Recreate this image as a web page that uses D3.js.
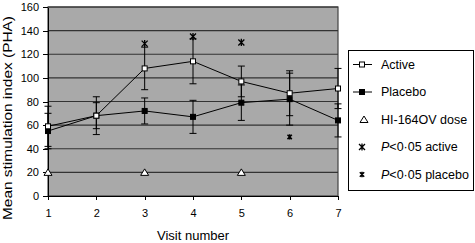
<!DOCTYPE html>
<html lang="en">
<head>
<meta charset="UTF-8" />
<title>Mean stimulation index by visit</title>
<script src="https://d3js.org/d3.v7.min.js"></script>
<style>
    body { margin: 0; background: #fff; }
    svg { display: block; font-family: "Liberation Sans", Arial, sans-serif; }
    .axis path, .axis line { stroke: #000; fill: none; shape-rendering: crispEdges; }
    .axis text { font-size: 11px; fill: #000; font-family: "Liberation Sans", Arial, sans-serif; }
    .grid line { stroke: #333; stroke-width: 1.2; }
    .legend text { font-size: 12.5px; fill: #000; }
</style>
</head>
<body>
<script>
    // values
    const visits = [1, 2, 3, 4, 5, 6, 7];
    const activeMean = [59, 68, 108, 114, 97, 87, 91];
    const activeErr = [17, 11, 18, 19, 13, 19, 17];
    const placeboMean = [55, 68, 72, 67, 79, 82, 64];
    const placeboErr = [15, 16, 11, 14, 15, 22, 14];
    const doseVisits = [1, 3, 5];
    const doseValue = 20;
    const sigActiveVisits = [3, 4, 5];
    const sigActiveValues = [129, 135, 130];
    const sigPlaceboVisits = [6];
    const sigPlaceboValues = [50];
    const yTicks = [0, 20, 40, 60, 80, 100, 120, 140, 160];
    const legendLabels = ['Active', 'Placebo', 'HI-164OV dose', 'P<0·05 active', 'P<0·05 placebo'];

    const w = 475, h = 243;
    const x = d3.scaleLinear().domain([1, 7]).range([48, 338]);
    const y = d3.scaleLinear().domain([0, 160]).range([196, 7]);

    const svg = d3.select('body').append('svg')
        .attr('width', w)
        .attr('height', h);

    // plot area
    svg.append('rect')
        .attr('x', x(1)).attr('y', y(160))
        .attr('width', x(7) - x(1)).attr('height', y(0) - y(160))
        .attr('fill', '#a9a9a9')
        .attr('stroke', '#444')
        .attr('stroke-width', 1.2);

    svg.append('g').attr('class', 'grid')
        .selectAll('line')
        .data(yTicks.filter(t => t > 0))
        .enter().append('line')
        .attr('x1', x(1)).attr('x2', x(7))
        .attr('y1', d => y(d)).attr('y2', d => y(d));

    svg.append('g').attr('class', 'axis')
        .attr('transform', `translate(${x(1)},0)`)
        .call(d3.axisLeft(y).tickValues(yTicks).tickSize(5).tickPadding(4).tickSizeOuter(0));

    svg.append('g').attr('class', 'axis')
        .attr('transform', `translate(0,${y(0)})`)
        .call(d3.axisBottom(x).tickValues(visits).tickFormat(d3.format('d'))
            .tickSize(4).tickPadding(9).tickSizeOuter(0));

    // axis titles
    svg.append('text')
        .attr('x', (x(1) + x(7)) / 2)
        .attr('y', 240)
        .attr('text-anchor', 'middle')
        .style('font-size', '13px')
        .text('Visit number');

    svg.append('text')
        .attr('transform', `translate(12,118) rotate(-90)`)
        .attr('text-anchor', 'middle')
        .attr('textLength', 204)
        .attr('lengthAdjust', 'spacingAndGlyphs')
        .style('font-size', '13px')
        .text('Mean stimulation index (PHA)');

    const active = visits.map((v, i) => ({ v, m: activeMean[i], e: activeErr[i] }));
    const placebo = visits.map((v, i) => ({ v, m: placeboMean[i], e: placeboErr[i] }));

    const line = d3.line().x(d => x(d.v)).y(d => y(d.m));
    [active, placebo].forEach(s => {
        svg.append('path').datum(s)
            .attr('d', line)
            .attr('fill', 'none')
            .attr('stroke', '#000')
            .attr('stroke-width', 1);
    });

    // error bars
    const cap = 3.5;
    [active, placebo].forEach(s => {
        const g = svg.append('g').attr('stroke', '#000').attr('stroke-width', 1);
        g.selectAll('line.v').data(s).enter().append('line')
            .attr('x1', d => x(d.v)).attr('x2', d => x(d.v))
            .attr('y1', d => y(d.m - d.e)).attr('y2', d => y(d.m + d.e));
        g.selectAll('line.t').data(s).enter().append('line')
            .attr('x1', d => x(d.v) - cap).attr('x2', d => x(d.v) + cap)
            .attr('y1', d => y(d.m + d.e)).attr('y2', d => y(d.m + d.e));
        g.selectAll('line.b').data(s).enter().append('line')
            .attr('x1', d => x(d.v) - cap).attr('x2', d => x(d.v) + cap)
            .attr('y1', d => y(d.m - d.e)).attr('y2', d => y(d.m - d.e));
    });

    const sq = 5;
    svg.selectAll('rect.placebo').data(placebo).enter().append('rect')
        .attr('x', d => x(d.v) - sq / 2).attr('y', d => y(d.m) - sq / 2)
        .attr('width', sq).attr('height', sq)
        .attr('fill', '#000').attr('stroke', '#000');

    svg.selectAll('rect.active').data(active).enter().append('rect')
        .attr('x', d => x(d.v) - sq / 2).attr('y', d => y(d.m) - sq / 2)
        .attr('width', sq).attr('height', sq)
        .attr('fill', '#fff').attr('stroke', '#000');

    const triangle = 'M0,-3.5L4,3L-4,3Z';
    svg.selectAll('path.dose').data(doseVisits).enter().append('path')
        .attr('transform', d => `translate(${x(d)},${y(doseValue)})`)
        .attr('d', triangle)
        .attr('fill', '#fff').attr('stroke', '#000');

    const star = r => `M${-r},${-r}L${r},${r}M${-r},${r}L${r},${-r}M0,${-r * 1.2}L0,${r * 1.2}`;
    svg.selectAll('path.sigA').data(sigActiveVisits).enter().append('path')
        .attr('transform', (d, i) => `translate(${x(d)},${y(sigActiveValues[i])})`)
        .attr('d', star(3))
        .attr('stroke', '#000').attr('stroke-width', 1.3).attr('fill', 'none');

    svg.selectAll('path.sigP').data(sigPlaceboVisits).enter().append('path')
        .attr('transform', (d, i) => `translate(${x(d)},${y(sigPlaceboValues[i])})`)
        .attr('d', star(2.2))
        .attr('stroke', '#000').attr('stroke-width', 1.5).attr('fill', 'none');

    // legend
    const legend = svg.append('g').attr('class', 'legend');
    legend.append('rect')
        .attr('x', 348.5).attr('y', 50.5)
        .attr('width', 125).attr('height', 140)
        .attr('fill', '#fff').attr('stroke', '#000');

    const rows = legend.selectAll('g.row').data(legendLabels).enter().append('g')
        .attr('class', 'row')
        .attr('transform', (d, i) => `translate(362,${64.5 + i * 27.5})`);

    rows.each(function (d, i) {
        const g = d3.select(this);
        if (i < 2) {
            g.append('line').attr('x1', -9).attr('x2', 10)
                .attr('stroke', '#000');
            g.append('rect').attr('x', -sq / 2).attr('y', -sq / 2)
                .attr('width', sq).attr('height', sq)
                .attr('fill', i === 0 ? '#fff' : '#000').attr('stroke', '#000');
        } else if (i === 2) {
            g.append('path').attr('d', triangle).attr('transform', 'translate(2,0)')
                .attr('fill', '#fff').attr('stroke', '#000');
        } else {
            g.append('path').attr('d', star(i === 3 ? 3 : 2.2))
                .attr('stroke', '#000').attr('stroke-width', i === 3 ? 1.3 : 1.5)
                .attr('fill', 'none');
        }
        const t = g.append('text').attr('x', 19).attr('dy', '0.35em');
        if (i >= 3) {
            t.append('tspan').style('font-style', 'italic').text('P');
            t.append('tspan').text(d.slice(1));
        } else {
            t.text(d);
        }
    });
</script>
</body>
</html>
